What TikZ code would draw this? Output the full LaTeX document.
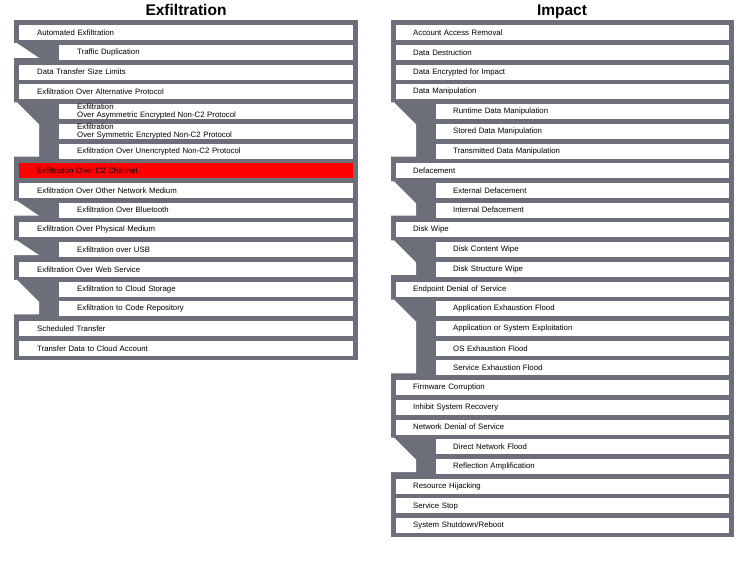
\documentclass[tikz,border=0pt]{standalone}
\usepackage{fontspec}
\setmainfont{Liberation Sans}
\definecolor{frame}{RGB}{108,111,121}
\definecolor{hot}{RGB}{255,0,0}
\tikzset{
  rowtext/.style={anchor=west, minimum height=15pt, inner ysep=0pt, inner xsep=18pt,
    align=left, font=\fontsize{7.8}{8}\selectfont, fill=white},
  topL/.style={rowtext, text width=298pt},
  subL/.style={rowtext, text width=258pt},
  topR/.style={rowtext, inner xsep=17pt, text width=299pt},
  subR/.style={rowtext, inner xsep=17pt, text width=259pt},
  hotrow/.style={fill=hot},
  title/.style={font=\bfseries\fontsize{15.5}{16}\selectfont, inner sep=0pt, anchor=base},
  panel/.style={fill=frame},
  cutout/.style={fill=white}
}
\newcommand\ry[1]{32.7+19.72*#1}
\newcommand\cutgroup[3]{%
  \pgfmathsetmacro\ctop{32+19.72*#2-8.5}%
  \pgfmathsetmacro\cbot{32+19.72*#3+6.2}%
  \pgfmathsetmacro\cdia{min(\ctop+22,\cbot)}%
  \fill[cutout] (#1-1,\ctop) -- (#1+3,\ctop) -- (#1+25,\cdia) -- (#1+25,\cbot) -- (#1-1,\cbot) -- cycle;%
}
\begin{document}
\begin{tikzpicture}[x=1pt,y=-1pt]
\useasboundingbox (0,0) rectangle (748,565);
% titles
\node[title] (t1) at (186,15.5) {Exfiltration};
\node[title] (t2) at (562,15.5) {Impact};
% panels
\fill[panel] (14,19.5) rectangle (358,359.5);
\fill[panel] (391,19.5) rectangle (734,537);
% cutouts left
\cutgroup{14}{1}{1}
\cutgroup{14}{4}{6}
\cutgroup{14}{9}{9}
\cutgroup{14}{11}{11}
\cutgroup{14}{13}{14}
% cutouts right
\cutgroup{391}{4}{6}
\cutgroup{391}{8}{9}
\cutgroup{391}{11}{12}
\cutgroup{391}{14}{17}
\cutgroup{391}{21}{22}
% left rows
\node[topL] (l0) at (19,{\ry{0}}) {Automated Exfiltration};
\node[subL] (l1) at (59,{\ry{1}}) {Traffic Duplication};
\node[topL] (l2) at (19,{\ry{2}}) {Data Transfer Size Limits};
\node[topL] (l3) at (19,{\ry{3}}) {Exfiltration Over Alternative Protocol};
\node[subL] (l4) at (59,{\ry{4}}) {Exfiltration\\Over Asymmetric Encrypted Non-C2 Protocol};
\node[subL] (l5) at (59,{\ry{5}}) {Exfiltration\\Over Symmetric Encrypted Non-C2 Protocol};
\node[subL] (l6) at (59,{\ry{6}}) {Exfiltration Over Unencrypted Non-C2 Protocol};
\node[topL,hotrow] (l7) at (19,{\ry{7}}) {Exfiltration Over C2 Channel};
\node[topL] (l8) at (19,{\ry{8}}) {Exfiltration Over Other Network Medium};
\node[subL] (l9) at (59,{\ry{9}}) {Exfiltration Over Bluetooth};
\node[topL] (l10) at (19,{\ry{10}}) {Exfiltration Over Physical Medium};
\node[subL] (l11) at (59,{\ry{11}}) {Exfiltration over USB};
\node[topL] (l12) at (19,{\ry{12}}) {Exfiltration Over Web Service};
\node[subL] (l13) at (59,{\ry{13}}) {Exfiltration to Cloud Storage};
\node[subL] (l14) at (59,{\ry{14}}) {Exfiltration to Code Repository};
\node[topL] (l15) at (19,{\ry{15}}) {Scheduled Transfer};
\node[topL] (l16) at (19,{\ry{16}}) {Transfer Data to Cloud Account};
% right rows
\node[topR] (r0) at (396,{\ry{0}}) {Account Access Removal};
\node[topR] (r1) at (396,{\ry{1}}) {Data Destruction};
\node[topR] (r2) at (396,{\ry{2}}) {Data Encrypted for Impact};
\node[topR] (r3) at (396,{\ry{3}}) {Data Manipulation};
\node[subR] (r4) at (436,{\ry{4}}) {Runtime Data Manipulation};
\node[subR] (r5) at (436,{\ry{5}}) {Stored Data Manipulation};
\node[subR] (r6) at (436,{\ry{6}}) {Transmitted Data Manipulation};
\node[topR] (r7) at (396,{\ry{7}}) {Defacement};
\node[subR] (r8) at (436,{\ry{8}}) {External Defacement};
\node[subR] (r9) at (436,{\ry{9}}) {Internal Defacement};
\node[topR] (r10) at (396,{\ry{10}}) {Disk Wipe};
\node[subR] (r11) at (436,{\ry{11}}) {Disk Content Wipe};
\node[subR] (r12) at (436,{\ry{12}}) {Disk Structure Wipe};
\node[topR] (r13) at (396,{\ry{13}}) {Endpoint Denial of Service};
\node[subR] (r14) at (436,{\ry{14}}) {Application Exhaustion Flood};
\node[subR] (r15) at (436,{\ry{15}}) {Application or System Exploitation};
\node[subR] (r16) at (436,{\ry{16}}) {OS Exhaustion Flood};
\node[subR] (r17) at (436,{\ry{17}}) {Service Exhaustion Flood};
\node[topR] (r18) at (396,{\ry{18}}) {Firmware Corruption};
\node[topR] (r19) at (396,{\ry{19}}) {Inhibit System Recovery};
\node[topR] (r20) at (396,{\ry{20}}) {Network Denial of Service};
\node[subR] (r21) at (436,{\ry{21}}) {Direct Network Flood};
\node[subR] (r22) at (436,{\ry{22}}) {Reflection Amplification};
\node[topR] (r23) at (396,{\ry{23}}) {Resource Hijacking};
\node[topR] (r24) at (396,{\ry{24}}) {Service Stop};
\node[topR] (r25) at (396,{\ry{25}}) {System Shutdown/Reboot};
\end{tikzpicture}
\end{document}
